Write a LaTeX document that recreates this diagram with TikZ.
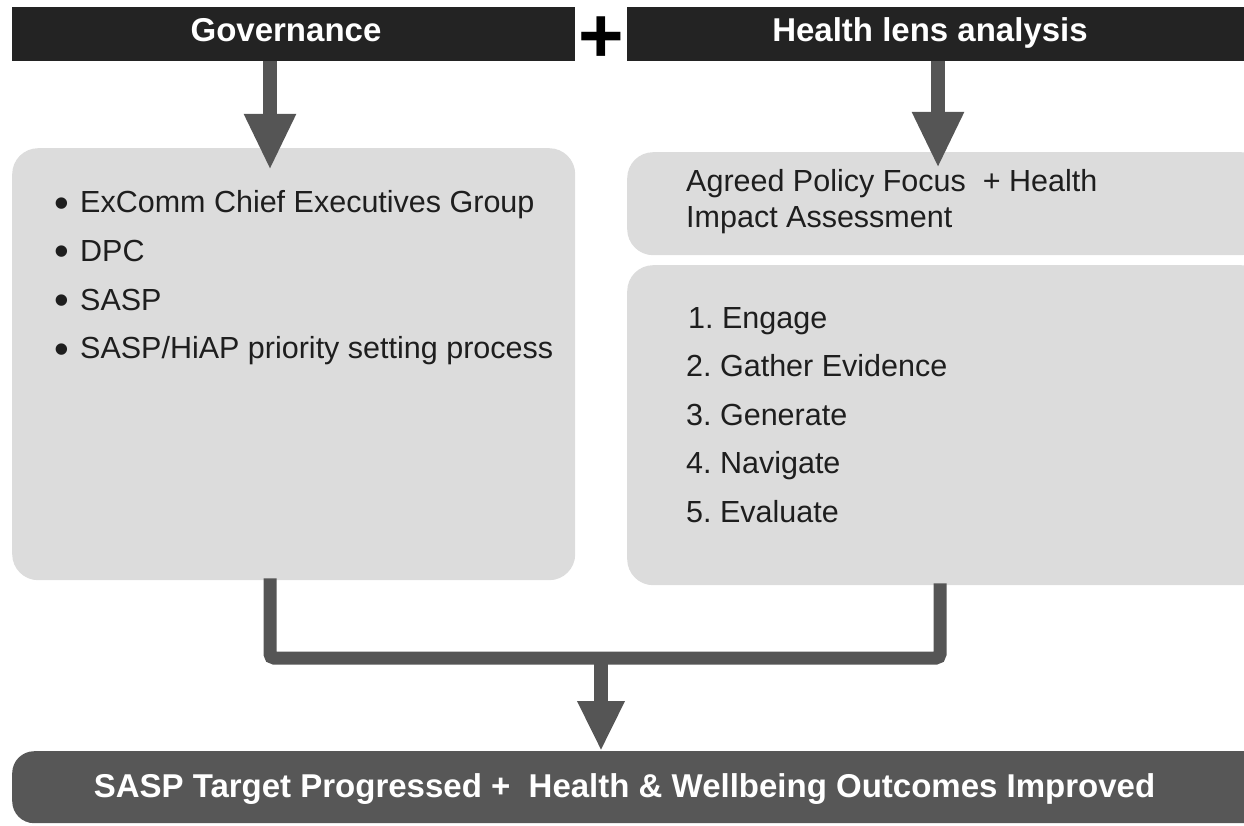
\documentclass[tikz,border=0pt]{standalone}
\usepackage{fontspec}
\setmainfont{Liberation Sans}
\usetikzlibrary{arrows.meta,calc}
\definecolor{barblack}{HTML}{232323}
\definecolor{arrowgray}{HTML}{555555}
\definecolor{boxgray}{HTML}{DCDCDC}
\definecolor{outgray}{HTML}{575757}
\definecolor{txtcol}{HTML}{1E1E1E}
\newcommand{\bigbullet}{\llap{{\fontsize{42}{42}\selectfont\raisebox{-4.5pt}{\textbullet}}\hspace{11pt}}}
\frenchspacing
\begin{document}
\begin{tikzpicture}[x=1pt,y=-1pt,
  hdrbar/.style={fill=barblack, draw=none, anchor=north west, inner sep=0pt, minimum height=54pt},
  graybox/.style={fill=boxgray, draw=none, rounded corners=26pt, anchor=north west, inner sep=0pt},
  outbar/.style={fill=outgray, draw=none, rounded corners=22pt, anchor=north west, inner sep=0pt},
  hdrtext/.style={text=white, font=\fontsize{33}{40}\selectfont\bfseries, anchor=base, inner sep=0pt},
  bodytext/.style={text=txtcol, font=\fontsize{30.5}{36}\selectfont, anchor=base west, inner sep=0pt},
  outtext/.style={text=white, font=\fontsize{33}{40}\selectfont\bfseries, anchor=base, inner sep=0pt},
  plussign/.style={text=black, font=\fontsize{78}{80}\selectfont\bfseries, anchor=base, inner sep=0pt},
  downarrow/.style={draw=arrowgray, line width=14pt, -{Triangle[width=48pt,length=56pt]}},
  bracketline/.style={draw=arrowgray, line width=13pt, rounded corners=4pt}
]
\useasboundingbox (0,0) rectangle (1244,826);
\clip (0,0) rectangle (1244,826);

% header bars
\node[hdrbar, minimum width=563pt] (gov) at (12,7) {};
\node[hdrbar, minimum width=630pt] (hla) at (627,7) {};
\node[hdrtext] (govtext) at (286,42) {Governance};
\node[hdrtext] (hlatext) at (930,42) {Health lens analysis};
\node[plussign] (plus) at (601,62.5) {+};

% boxes
\node[graybox, minimum width=563pt, minimum height=432pt] (lbox) at (12,148) {};
\node[graybox, minimum width=640pt, minimum height=103pt] (rtop) at (627,152) {};
\node[graybox, minimum width=640pt, minimum height=320pt] (rbot) at (627,265) {};
\node[outbar, minimum width=1260pt, minimum height=72pt] (outcome) at (12,751) {};

% left list
\node[bodytext] (l1) at (80,213) {\bigbullet ExComm Chief Executives Group};
\node[bodytext] (l2) at (80,261.5) {\bigbullet DPC};
\node[bodytext] (l3) at (80,310) {\bigbullet SASP};
\node[bodytext] (l4) at (80,358.5) {\bigbullet SASP/HiAP priority setting process};

% right top text
\node[bodytext] (a1) at (686,192) {Agreed Policy Focus\ \ + Health};
\node[bodytext] (a2) at (686,227.5) {Impact Assessment};

% numbered list
\node[bodytext] (n1) at (688,328) {1. Engage};
\node[bodytext] (n2) at (686,376.5) {2. Gather Evidence};
\node[bodytext] (n3) at (686,425) {3. Generate};
\node[bodytext] (n4) at (686,473.5) {4. Navigate};
\node[bodytext] (n5) at (686,522) {5. Evaluate};

% outcome text
\node[outtext] (outtxt) at (624.5,797) {SASP Target Progressed +\ \ Health \& Wellbeing Outcomes Improved};

% connectors
\coordinate (ltip) at (270,170);
\coordinate (rtip) at (938,168);
\draw[downarrow] (ltip |- gov.south) -- (ltip);
\draw[downarrow] (rtip |- hla.south) -- (rtip);

\coordinate (lj) at (270,658);
\coordinate (rj) at (940,658);
\draw[bracketline] ($(lj |- lbox.south)+(0,-2)$) -- (lj) -- (rj) -- ($(rj |- rbot.south)+(0,-2)$);

\coordinate (mj) at (601,664);
\draw[draw=arrowgray, line width=14pt, -{Triangle[width=44pt,length=50pt]}] (mj) -- (mj |- outcome.north);
\end{tikzpicture}
\end{document}
